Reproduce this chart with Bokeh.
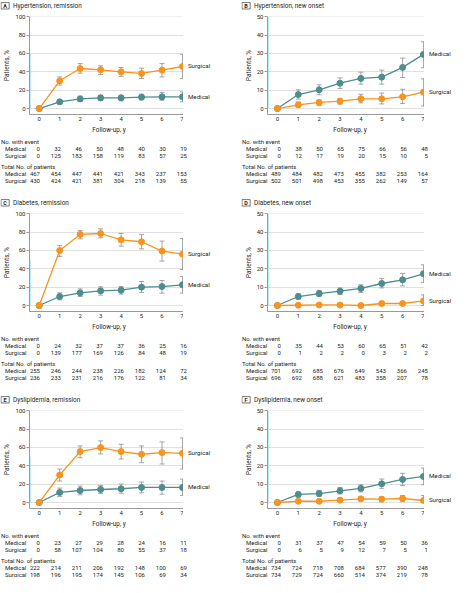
from bokeh.plotting import figure
from bokeh.models import Range1d, FixedTicker, ColumnDataSource
from bokeh.layouts import column, row
from bokeh.embed import file_html
from bokeh.resources import INLINE
from bokeh.core.properties import value

YEARS = [0, 1, 2, 3, 4, 5, 6, 7]

# ---- Panel A: Hypertension, remission
A_SURG = [0, 30.2, 43.6, 42.2, 40.0, 38.2, 41.8, 45.8]
A_SURG_LO = [0, 25.5, 38.5, 37.0, 35.0, 32.7, 34.5, 32.7]
A_SURG_HI = [0, 34.5, 49.0, 46.5, 44.7, 44.0, 49.0, 59.0]
A_MED = [0, 7.3, 10.5, 11.6, 11.6, 12.4, 12.7, 12.7]
A_MED_LO = [0, 5.0, 7.6, 8.7, 8.4, 9.5, 9.0, 7.3]
A_MED_HI = [0, 9.5, 13.5, 14.5, 14.5, 15.6, 17.5, 18.2]
A_EV_MED = [0, 32, 46, 50, 48, 40, 30, 19]
A_EV_SURG = [0, 125, 183, 158, 119, 83, 57, 25]
A_TOT_MED = [467, 454, 447, 441, 421, 343, 237, 153]
A_TOT_SURG = [430, 424, 421, 381, 304, 218, 139, 55]

# ---- Panel B: Hypertension, new onset
B_SURG = [0, 2.0, 3.3, 4.0, 5.3, 5.3, 6.4, 8.9]
B_SURG_LO = [0, 0.9, 1.6, 2.4, 3.1, 2.5, 2.7, 1.3]
B_SURG_HI = [0, 3.6, 4.5, 5.5, 7.8, 8.4, 10.5, 16.2]
B_MED = [0, 7.6, 10.2, 13.8, 16.4, 17.1, 22.4, 29.5]
B_MED_LO = [0, 5.1, 7.5, 10.9, 13.3, 13.3, 16.9, 22.2]
B_MED_HI = [0, 10.2, 12.9, 16.7, 19.8, 20.9, 27.5, 36.4]
B_EV_MED = [0, 38, 50, 65, 75, 66, 56, 48]
B_EV_SURG = [0, 12, 17, 19, 20, 15, 10, 5]
B_TOT_MED = [489, 484, 482, 473, 455, 382, 253, 164]
B_TOT_SURG = [502, 501, 498, 453, 355, 262, 149, 57]

# ---- Panel C: Diabetes, remission
C_SURG = [0, 60.0, 77.5, 78.5, 71.6, 69.5, 59.3, 56.0]
C_SURG_LO = [0, 53.5, 72.7, 73.8, 64.7, 61.8, 48.4, 39.3]
C_SURG_HI = [0, 65.5, 81.8, 83.6, 78.5, 77.5, 70.2, 73.0]
C_MED = [0, 9.8, 13.8, 16.0, 16.7, 20.0, 20.7, 22.5]
C_MED_LO = [0, 6.2, 9.8, 11.3, 12.4, 14.2, 13.5, 13.5]
C_MED_HI = [0, 13.8, 18.2, 20.4, 20.7, 26.2, 27.3, 31.6]
C_EV_MED = [0, 24, 32, 37, 37, 36, 25, 16]
C_EV_SURG = [0, 139, 177, 169, 126, 84, 48, 19]
C_TOT_MED = [255, 246, 244, 238, 226, 182, 124, 72]
C_TOT_SURG = [236, 233, 231, 216, 176, 122, 81, 34]

# ---- Panel D: Diabetes, new onset
D_SURG = [0, 0.15, 0.3, 0.3, 0.0, 1.1, 1.1, 2.5]
D_SURG_LO = [0, 0.0, 0.0, 0.0, 0.0, 0.4, 0.3, 0.0]
D_SURG_HI = [0, 0.5, 0.8, 0.8, 0.0, 1.8, 2.0, 5.8]
D_MED = [0, 4.9, 6.5, 7.8, 9.3, 12.0, 14.0, 17.3]
D_MED_LO = [0, 3.5, 4.9, 6.0, 7.1, 9.6, 10.7, 12.5]
D_MED_HI = [0, 6.4, 8.2, 9.6, 11.3, 14.7, 17.5, 22.2]
D_EV_MED = [0, 35, 44, 53, 60, 65, 51, 42]
D_EV_SURG = [0, 1, 2, 2, 0, 3, 2, 2]
D_TOT_MED = [701, 692, 685, 676, 649, 543, 366, 245]
D_TOT_SURG = [696, 692, 688, 621, 483, 358, 207, 78]

# ---- Panel E: Dyslipidemia, remission
E_SURG = [0, 30.0, 55.5, 59.9, 55.5, 52.6, 54.4, 53.6]
E_SURG_LO = [0, 23.4, 48.9, 52.9, 47.4, 43.4, 42.0, 36.5]
E_SURG_HI = [0, 36.5, 61.7, 67.2, 63.5, 61.7, 66.1, 70.4]
E_MED = [0, 11.0, 13.1, 14.2, 15.0, 16.4, 16.4, 16.4]
E_MED_LO = [0, 6.6, 8.4, 9.9, 10.2, 10.6, 9.1, 7.7]
E_MED_HI = [0, 15.7, 17.9, 18.6, 20.1, 22.3, 23.4, 25.5]
E_EV_MED = [0, 23, 27, 29, 28, 24, 16, 11]
E_EV_SURG = [0, 58, 107, 104, 80, 55, 37, 18]
E_TOT_MED = [222, 214, 211, 206, 192, 148, 100, 69]
E_TOT_SURG = [198, 196, 195, 174, 145, 106, 69, 34]

# ---- Panel F: Dyslipidemia, new onset
F_SURG = [0, 0.7, 0.7, 1.3, 2.0, 1.8, 2.2, 1.1]
F_SURG_LO = [0, 0.0, 0.0, 0.4, 0.9, 0.5, 0.5, 0.0]
F_SURG_HI = [0, 1.5, 1.3, 2.4, 3.1, 3.1, 3.8, 3.8]
F_MED = [0, 4.4, 4.9, 6.4, 7.7, 10.2, 12.6, 14.2]
F_MED_LO = [0, 2.9, 3.3, 4.7, 5.8, 7.7, 9.3, 9.7]
F_MED_HI = [0, 5.7, 6.6, 8.2, 9.7, 12.8, 15.9, 18.8]
F_EV_MED = [0, 31, 37, 47, 54, 59, 50, 36]
F_EV_SURG = [0, 6, 5, 9, 12, 7, 5, 1]
F_TOT_MED = [734, 724, 718, 708, 684, 577, 390, 248]
F_TOT_SURG = [734, 729, 724, 660, 514, 374, 219, 78]

FONT = "Roboto"
TXT = "#231f20"
ORANGE = "#F7941D"
TEAL = "#4E8C8D"
ERR = "#8f8f8f"
GRID = "#e0e0e0"
AXIS = "#9a9a9a"
CYAN = "#7fdbe9"

XS, XE = -0.476, 7.05
FW, FH = 158, 98
PTOP, BOT, LEFT = 5, 10, 25
TITLE_H = 11
PH = PTOP + FH + BOT
PX = FW / (XE - XS)
XLABEL_Y = 5
ROWS_Y = [17, 24, 31, 42, 49, 56]


def blank(fig):
    fig.outline_line_color = None
    fig.background_fill_color = "white"
    fig.border_fill_color = "white"
    return fig


def make_panel(letter, title, ymax, cyan_top, surg, surg_lo, surg_hi, med, med_lo, med_hi,
               ev_med, ev_surg, tot_med, tot_surg, W, TH):
    # ---- title strip
    tt = blank(figure(width=W, height=TITLE_H, x_range=Range1d(0, W), y_range=Range1d(TITLE_H, 0),
                      min_border=0, toolbar_location=None, output_backend="svg", tools="",
                      x_axis_type=None, y_axis_type=None, title=None))
    tt.rect(x=[4.6], y=[4.3], width=[8.2], height=[6.4], fill_color=None,
            line_color="#555555", line_width=0.8)
    tt.text(x=[4.6], y=[4.5], text=[letter], text_font=value(FONT), text_font_size="5.5px",
            text_font_style="bold", text_color=TXT, text_align="center", text_baseline="middle")
    tt.text(x=[12.5], y=[4.4], text=[title], text_font=value(FONT), text_font_size="6.4px",
            text_color=TXT, text_align="left", text_baseline="middle")

    # ---- main plot
    ys = -ymax * 6.0 / 92.0
    yr = Range1d(ys, ymax + ymax * 0.003)
    p = blank(figure(width=LEFT + FW, height=PH,
                     min_border_left=LEFT, min_border_right=0,
                     min_border_top=PTOP, min_border_bottom=BOT,
                     x_range=Range1d(XS, XE), y_range=yr, title=None,
                     output_backend="svg", toolbar_location=None, tools=""))
    p.xgrid.visible = False
    step = ymax // 5
    yt = list(range(0, ymax + 1, step))
    p.ygrid.ticker = FixedTicker(ticks=yt)
    p.ygrid.grid_line_color = GRID
    p.ygrid.grid_line_width = 1
    p.yaxis.ticker = FixedTicker(ticks=yt)
    p.xaxis.ticker = FixedTicker(ticks=YEARS)
    for ax in (p.xaxis, p.yaxis):
        ax.axis_line_color = AXIS
        ax.major_tick_line_color = AXIS
        ax.minor_tick_line_color = None
        ax.major_label_text_font = FONT
        ax.major_label_text_font_size = "6px"
        ax.major_label_text_color = TXT
        ax.axis_label_text_font = FONT
        ax.axis_label_text_font_size = "6.4px"
        ax.axis_label_text_font_style = "normal"
        ax.axis_label_text_color = TXT
    p.yaxis.major_tick_out = 3
    p.yaxis.major_tick_in = 0
    p.yaxis.major_label_standoff = 1
    p.yaxis.axis_label_standoff = 1
    p.yaxis.axis_label = "Patients, %"
    p.xaxis.major_tick_out = 0
    p.xaxis.major_tick_in = 0
    p.xaxis.major_label_standoff = 2

    # cyan highlight on the y axis
    p.segment(x0=[XS], y0=[0], x1=[XS], y1=[cyan_top], line_color=CYAN, line_width=2)

    for vals, lo, hi, col in ((med, med_lo, med_hi, TEAL), (surg, surg_lo, surg_hi, ORANGE)):
        src = ColumnDataSource(dict(x=YEARS, y=vals, lo=lo, hi=hi))
        p.line("x", "y", source=src, line_color=col, line_width=1.3)
        p.segment(x0="x", y0="lo", x1="x", y1="hi", source=src, line_color=ERR, line_width=0.8)
        p.scatter("x", "hi", source=src, marker="dash", size=5, line_color=ERR, line_width=0.8)
        p.scatter("x", "lo", source=src, marker="dash", size=5, line_color=ERR, line_width=0.8)
        p.scatter("x", "y", source=src, size=6, fill_color=col, line_color=col)

    # ---- series labels to the right, sharing the y scale
    LW = W - LEFT - FW
    lab = blank(figure(width=LW, height=PH, min_border_left=0, min_border_right=0,
                       min_border_top=PTOP, min_border_bottom=BOT,
                       x_range=Range1d(XE, XE + LW / PX), y_range=yr, title=None,
                       output_backend="svg", toolbar_location=None, tools="",
                       x_axis_type=None, y_axis_type=None))
    lab.text(x=[YEARS[-1], YEARS[-1]], y=[surg[-1], med[-1]], text=["Surgical", "Medical"],
             x_offset=5.5, text_font=value(FONT), text_font_size="6.2px", text_color=TXT,
             text_align="left", text_baseline="middle")

    # ---- x-axis title and table below (same x scale as the plot)
    TXS = XS - LEFT / PX
    t = blank(figure(width=W, height=TH, x_range=Range1d(TXS, TXS + W / PX), y_range=Range1d(TH, 0),
                     min_border=0, toolbar_location=None, output_backend="svg", tools="",
                     x_axis_type=None, y_axis_type=None, title=None))
    t.text(x=[(YEARS[0] + YEARS[-1]) / 2], y=[XLABEL_Y], text=["Follow-up, y"],
           text_font=value(FONT), text_font_size="6.4px", text_color=TXT,
           text_align="center", text_baseline="middle")
    common = dict(text_font=value(FONT), text_font_size="6px", text_color=TXT,
                  text_baseline="middle")
    t.text(x=[TXS, TXS], y=[ROWS_Y[0], ROWS_Y[3]], text=["No. with event", "Total No. of patients"],
           x_offset=0.5, text_align="left", **common)
    t.text(x=[TXS] * 4, y=[ROWS_Y[1], ROWS_Y[2], ROWS_Y[4], ROWS_Y[5]],
           text=["Medical", "Surgical", "Medical", "Surgical"], x_offset=4.5, text_align="left", **common)
    for ry, vals in ((ROWS_Y[1], ev_med), (ROWS_Y[2], ev_surg), (ROWS_Y[4], tot_med), (ROWS_Y[5], tot_surg)):
        t.text(x=YEARS, y=[ry] * len(YEARS), text=[str(v) for v in vals],
               x_offset=4.5, text_align="right", **common)
    return column(tt, row(p, lab, spacing=0), t, spacing=0)


WL, WR = 241, 210
TH_FULL = 197 - TITLE_H - PH
TH_LAST = TH_FULL - 14
pa = make_panel("A", "Hypertension, remission", 100, 60, A_SURG, A_SURG_LO, A_SURG_HI,
                A_MED, A_MED_LO, A_MED_HI, A_EV_MED, A_EV_SURG, A_TOT_MED, A_TOT_SURG, WL, TH_FULL)
pb = make_panel("B", "Hypertension, new onset", 50, 50, B_SURG, B_SURG_LO, B_SURG_HI,
                B_MED, B_MED_LO, B_MED_HI, B_EV_MED, B_EV_SURG, B_TOT_MED, B_TOT_SURG, WR, TH_FULL)
pc = make_panel("C", "Diabetes, remission", 100, 50, C_SURG, C_SURG_LO, C_SURG_HI,
                C_MED, C_MED_LO, C_MED_HI, C_EV_MED, C_EV_SURG, C_TOT_MED, C_TOT_SURG, WL, TH_FULL)
pd_ = make_panel("D", "Diabetes, new onset", 50, 50, D_SURG, D_SURG_LO, D_SURG_HI,
                 D_MED, D_MED_LO, D_MED_HI, D_EV_MED, D_EV_SURG, D_TOT_MED, D_TOT_SURG, WR, TH_FULL)
pe = make_panel("E", "Dyslipidemia, remission", 100, 50, E_SURG, E_SURG_LO, E_SURG_HI,
                E_MED, E_MED_LO, E_MED_HI, E_EV_MED, E_EV_SURG, E_TOT_MED, E_TOT_SURG, WL, TH_LAST)
pf = make_panel("F", "Dyslipidemia, new onset", 50, 50, F_SURG, F_SURG_LO, F_SURG_HI,
                F_MED, F_MED_LO, F_MED_HI, F_EV_MED, F_EV_SURG, F_TOT_MED, F_TOT_SURG, WR, TH_LAST)

layout = column(row(pa, pb, spacing=0), row(pc, pd_, spacing=0), row(pe, pf, spacing=0), spacing=0)

with open("out.html", "w") as f:
    f.write(file_html(layout, INLINE))
